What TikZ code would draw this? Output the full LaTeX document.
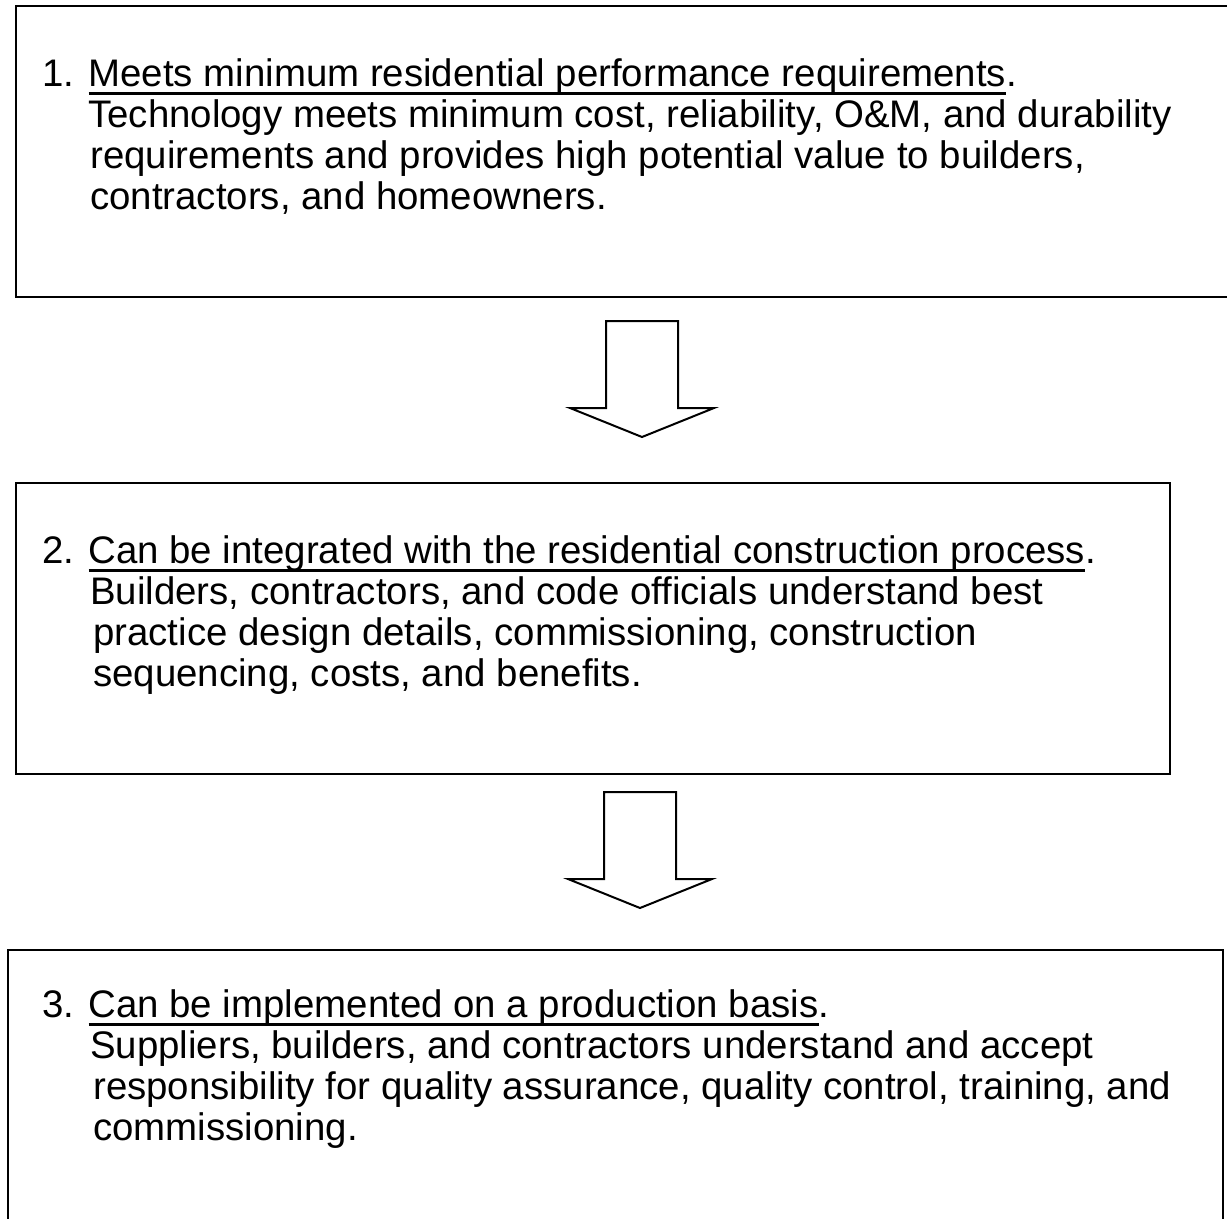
\documentclass[tikz,border=0pt]{standalone}
\usepackage{fontspec}
\setmainfont{Liberation Sans}
\usetikzlibrary{positioning}
\tikzset{
  box/.style={line width=2pt},
  blockarrow/.style={line width=1.5pt, line join=miter},
  txt/.style={anchor=base west, inner sep=0pt, font=\fontsize{28.8}{32}\selectfont},
}
% thick underline for the headings
\newcommand{\undl}[1]{\setbox0=\hbox{#1}\rlap{\rule[-6.5pt]{\wd0}{1.7pt}}\box0}
% hollow down arrow, #1 = top middle of the shaft
\newcommand{\hollowarrow}[1]{%
  \draw[blockarrow] (#1) ++(-36,0) -- ++(0,87) -- ++(-36,0) -- ++(72,29)
    -- ++(72,-29) -- ++(-36,0) -- ++(0,-87) -- cycle;}

\begin{document}
\begin{tikzpicture}[x=0.75pt,y=-0.75pt]
  \useasboundingbox (0,0) rectangle (1227,1218);

  % boxes
  \draw[box] (16,6) rectangle (1240,297);
  \draw[box] (16,483) rectangle (1170,774);
  \draw[box] (8,950) rectangle (1223,1240);

  % box 1
  \node[txt] (h1) at (42,86) {1. \undl{Meets minimum residential performance requirements}.};
  \node[txt] (b1a) at (88,127) {Technology meets minimum cost, reliability, O\&M, and durability};
  \node[txt] (b1b) at (90,168) {requirements and provides high potential value to builders,};
  \node[txt] (b1c) at (90,209) {contractors, and homeowners.};

  % arrow 1
  \coordinate (a1) at (642,321);
  \hollowarrow{a1}

  % box 2
  \node[txt] (h2) at (42,563) {2. \undl{Can be integrated with the residential construction process}.};
  \node[txt] (b2a) at (90,604) {Builders, contractors, and code officials understand best};
  \node[txt] (b2b) at (93,645) {practice design details, commissioning, construction};
  \node[txt] (b2c) at (93,686) {sequencing, costs, and benefits.};

  % arrow 2
  \coordinate (a2) at (640,792);
  \hollowarrow{a2}

  % box 3
  \node[txt] (h3) at (42,1017) {3. \undl{Can be implemented on a production basis}.};
  \node[txt] (b3a) at (90,1058) {Suppliers, builders, and contractors understand and accept};
  \node[txt] (b3b) at (93,1099) {responsibility for quality assurance, quality control, training, and};
  \node[txt] (b3c) at (93,1140) {commissioning.};
\end{tikzpicture}
\end{document}
